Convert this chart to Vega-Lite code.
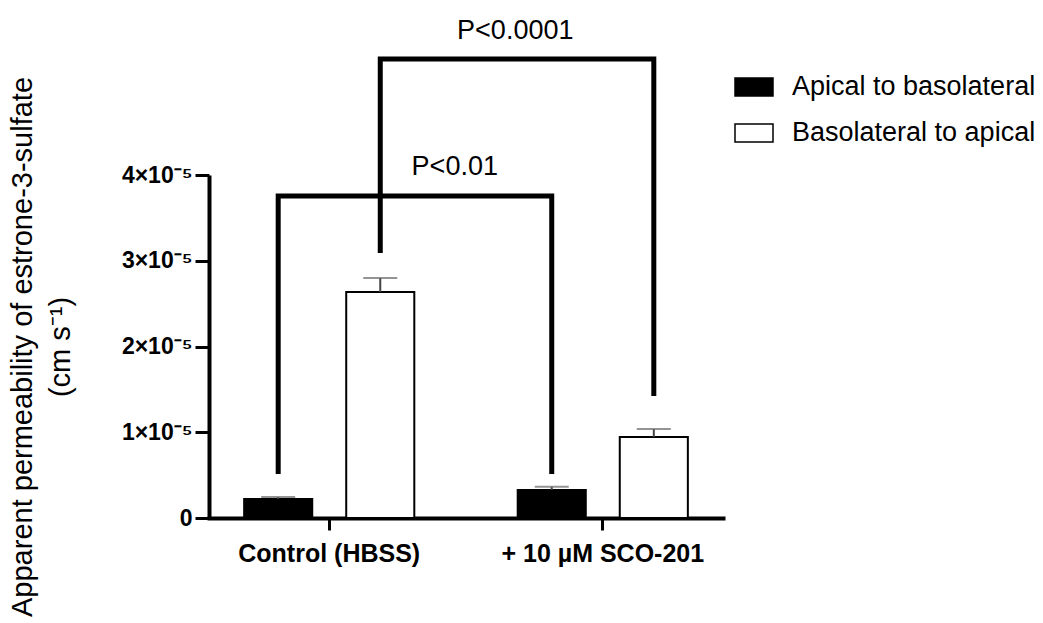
{
  "$schema": "https://vega.github.io/schema/vega-lite/v6.json",
  "width": 514,
  "height": 343,
  "autosize": {"type": "none"},
  "padding": {"left": 209, "top": 175, "right": 320, "bottom": 105},
  "background": "white",
  "config": {"view": {"stroke": null}, "font": "Liberation Sans"},
  "datasets": {
    "bars": [
      {"condition": "Control (HBSS)", "direction": "Apical to basolateral", "mean": 2.22e-6, "upper": 2.45e-6},
      {"condition": "Control (HBSS)", "direction": "Basolateral to apical", "mean": 2.636e-5, "upper": 2.80e-5},
      {"condition": "+ 10 µM SCO-201", "direction": "Apical to basolateral", "mean": 3.27e-6, "upper": 3.65e-6},
      {"condition": "+ 10 µM SCO-201", "direction": "Basolateral to apical", "mean": 9.45e-6, "upper": 1.038e-5}
    ],
    "brackets": [
      {"bracket": "a", "step": 1, "condition": "Control (HBSS)", "direction": "Apical to basolateral", "y": 5.13e-6},
      {"bracket": "a", "step": 2, "condition": "Control (HBSS)", "direction": "Apical to basolateral", "y": 3.755e-5},
      {"bracket": "a", "step": 3, "condition": "+ 10 µM SCO-201", "direction": "Apical to basolateral", "y": 3.755e-5},
      {"bracket": "a", "step": 4, "condition": "+ 10 µM SCO-201", "direction": "Apical to basolateral", "y": 5.13e-6},
      {"bracket": "b", "step": 1, "condition": "Control (HBSS)", "direction": "Basolateral to apical", "y": 3.09e-5},
      {"bracket": "b", "step": 2, "condition": "Control (HBSS)", "direction": "Basolateral to apical", "y": 5.353e-5},
      {"bracket": "b", "step": 3, "condition": "+ 10 µM SCO-201", "direction": "Basolateral to apical", "y": 5.353e-5},
      {"bracket": "b", "step": 4, "condition": "+ 10 µM SCO-201", "direction": "Basolateral to apical", "y": 1.423e-5}
    ],
    "p1": [{"label": "P<0.01", "condition": "Control (HBSS)", "direction": "Basolateral to apical", "y": 4.09e-5}],
    "p2": [{"label": "P<0.0001", "condition": "Control (HBSS)", "direction": "Basolateral to apical", "y": 5.68e-5}]
  },
  "encoding": {
    "x": {
      "field": "condition",
      "type": "nominal",
      "scale": {"domain": ["Control (HBSS)", "+ 10 µM SCO-201"], "paddingInner": 0.378, "paddingOuter": 0.1285},
      "axis": {
        "title": null,
        "labelAngle": 0,
        "labelFontSize": 25,
        "labelFontWeight": "bold",
        "labelColor": "black",
        "labelLimit": 0,
        "labelPadding": 11,
        "tickSize": 12,
        "tickWidth": 3,
        "tickColor": "black",
        "domainWidth": 4,
        "domainColor": "black",
        "domainCap": "square"
      }
    },
    "xOffset": {
      "field": "direction",
      "type": "nominal",
      "scale": {"domain": ["Apical to basolateral", "Basolateral to apical"], "paddingInner": 0.333, "paddingOuter": 0}
    }
  },
  "layer": [
    {
      "data": {"name": "bars"},
      "mark": {"type": "bar", "stroke": "black", "strokeWidth": 2},
      "encoding": {
        "y": {
          "field": "mean",
          "type": "quantitative",
          "scale": {"domain": [0, 4e-5], "nice": false},
          "axis": {
            "values": [0, 1e-5, 2e-5, 3e-5, 4e-5],
            "labelExpr": "datum.value == 0 ? '0' : format(round(datum.value * 1e5), 'd') + '×10⁻⁵'",
            "labelFontSize": 23,
            "labelFontWeight": "bold",
            "labelColor": "black",
            "labelPadding": 3,
            "tickSize": 14,
            "tickWidth": 3,
            "tickColor": "black",
            "domainWidth": 4,
            "domainColor": "black",
            "grid": false,
            "title": ["Apparent permeability of estrone-3-sulfate", "(cm s⁻¹)"],
            "titleFontSize": 29,
            "titleFontWeight": "normal",
            "titleColor": "black",
            "titleLineHeight": 38,
            "titlePadding": 46
          }
        },
        "fill": {
          "field": "direction",
          "type": "nominal",
          "scale": {"domain": ["Apical to basolateral", "Basolateral to apical"], "range": ["black", "white"]},
          "legend": {
            "orient": "none",
            "legendX": 525,
            "legendY": -108,
            "title": null,
            "padding": 0,
            "symbolType": "M-1,-0.47H1V0.47H-1Z",
            "symbolSize": 1444,
            "symbolStrokeColor": "black",
            "symbolStrokeWidth": 1.5,
            "labelFontSize": 27,
            "labelColor": "black",
            "labelLimit": 0,
            "labelOffset": 18,
            "rowPadding": 13
          }
        }
      }
    },
    {
      "data": {"name": "bars"},
      "mark": {"type": "rule", "stroke": "#444", "strokeWidth": 2},
      "encoding": {
        "y": {"field": "mean", "type": "quantitative"},
        "y2": {"field": "upper"}
      }
    },
    {
      "data": {"name": "bars"},
      "mark": {"type": "tick", "orient": "horizontal", "size": 34, "thickness": 2, "color": "#666"},
      "encoding": {
        "y": {"field": "upper", "type": "quantitative"}
      }
    },
    {
      "data": {"name": "brackets"},
      "mark": {"type": "line", "stroke": "black", "strokeWidth": 5, "strokeJoin": "miter", "strokeCap": "butt"},
      "encoding": {
        "y": {"field": "y", "type": "quantitative"},
        "detail": {"field": "bracket"},
        "order": {"field": "step", "type": "quantitative"}
      }
    },
    {
      "data": {"name": "p1"},
      "mark": {"type": "text", "fontSize": 27, "color": "black", "align": "center", "baseline": "middle", "dx": 74.5},
      "encoding": {
        "y": {"field": "y", "type": "quantitative"},
        "text": {"field": "label"}
      }
    },
    {
      "data": {"name": "p2"},
      "mark": {"type": "text", "fontSize": 27, "color": "black", "align": "center", "baseline": "middle", "dx": 135},
      "encoding": {
        "y": {"field": "y", "type": "quantitative"},
        "text": {"field": "label"}
      }
    }
  ]
}
